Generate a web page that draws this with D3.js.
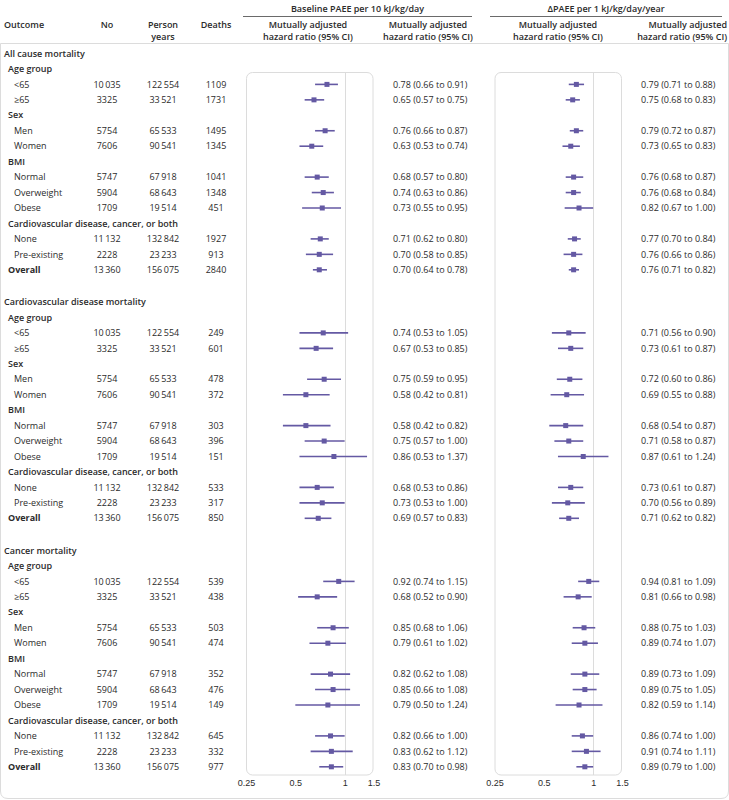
<!DOCTYPE html>
<html>
<head>
<meta charset="utf-8">
<script src="https://cdn.jsdelivr.net/npm/d3@7"></script>
<style>
  html, body { margin: 0; padding: 0; background: #fff; }
  svg { display: block; font-family: "Open Sans", "Noto Sans", sans-serif; }
</style>
</head>
<body>
<svg id="chart" width="729" height="800"></svg>
<script>
// ---------- data ----------
const outcomes = ["All cause mortality", "Cardiovascular disease mortality", "Cancer mortality"];
const groups = ["Age group", "Sex", "BMI", "Cardiovascular disease, cancer, or both"];
const subgroups = ["<65", "≥65", "Men", "Women", "Normal", "Overweight", "Obese", "None", "Pre-existing", "Overall"];
const subgroupGroup = [0, 0, 1, 1, 2, 2, 2, 3, 3, -1];
const participants = [10035, 3325, 5754, 7606, 5747, 5904, 1709, 11132, 2228, 13360];
const personYears = [122554, 33521, 65533, 90541, 67918, 68643, 19514, 132842, 23233, 156075];
const deaths = [
  [1109, 1731, 1495, 1345, 1041, 1348, 451, 1927, 913, 2840],
  [249, 601, 478, 372, 303, 396, 151, 533, 317, 850],
  [539, 438, 503, 474, 352, 476, 149, 645, 332, 977]
];
const baselineHR = [
  [0.78, 0.65, 0.76, 0.63, 0.68, 0.74, 0.73, 0.71, 0.70, 0.70],
  [0.74, 0.67, 0.75, 0.58, 0.58, 0.75, 0.86, 0.68, 0.73, 0.69],
  [0.92, 0.68, 0.85, 0.79, 0.82, 0.85, 0.79, 0.82, 0.83, 0.83]
];
const baselineLo = [
  [0.66, 0.57, 0.66, 0.53, 0.57, 0.63, 0.55, 0.62, 0.58, 0.64],
  [0.53, 0.53, 0.59, 0.42, 0.42, 0.57, 0.53, 0.53, 0.53, 0.57],
  [0.74, 0.52, 0.68, 0.61, 0.62, 0.66, 0.50, 0.66, 0.62, 0.70]
];
const baselineHi = [
  [0.91, 0.75, 0.87, 0.74, 0.80, 0.86, 0.95, 0.80, 0.85, 0.78],
  [1.05, 0.85, 0.95, 0.81, 0.82, 1.00, 1.37, 0.86, 1.00, 0.83],
  [1.15, 0.90, 1.06, 1.02, 1.08, 1.08, 1.24, 1.00, 1.12, 0.98]
];
const changeHR = [
  [0.79, 0.75, 0.79, 0.73, 0.76, 0.76, 0.82, 0.77, 0.76, 0.76],
  [0.71, 0.73, 0.72, 0.69, 0.68, 0.71, 0.87, 0.73, 0.70, 0.71],
  [0.94, 0.81, 0.88, 0.89, 0.89, 0.89, 0.82, 0.86, 0.91, 0.89]
];
const changeLo = [
  [0.71, 0.68, 0.72, 0.65, 0.68, 0.68, 0.67, 0.70, 0.66, 0.71],
  [0.56, 0.61, 0.60, 0.55, 0.54, 0.58, 0.61, 0.61, 0.56, 0.62],
  [0.81, 0.66, 0.75, 0.74, 0.73, 0.75, 0.59, 0.74, 0.74, 0.79]
];
const changeHi = [
  [0.88, 0.83, 0.87, 0.83, 0.87, 0.84, 1.00, 0.84, 0.86, 0.82],
  [0.90, 0.87, 0.86, 0.88, 0.87, 0.87, 1.24, 0.87, 0.89, 0.82],
  [1.09, 0.98, 1.03, 1.07, 1.09, 1.05, 1.14, 1.00, 1.11, 1.00]
];
const axisTicks = [0.25, 0.5, 1, 1.5];
const panelTitles = ["Baseline PAEE per 10 kJ/kg/day", "ΔPAEE per 1 kJ/kg/day/year"];
const ciHeader = ["Mutually adjusted", "hazard ratio (95% CI)"];

// ---------- layout ----------
const svg = d3.select("#chart");
const ink = "#2b2b2b";
const purple = "#6459a3";
const grid = "#dcdcdc";
const FS = 9;

const rowStep = 15.45;
const sectionTop = [53.5, 302, 550.5];

// build the line list
const lines = [];
outcomes.forEach((o, s) => {
  let i = 0;
  lines.push({ type: "title", text: o, s, i: i++ });
  groups.forEach((g, gi) => {
    lines.push({ type: "group", text: g, s, i: i++ });
    subgroups.forEach((sg, k) => {
      if (subgroupGroup[k] === gi) lines.push({ type: "row", text: sg, s, k, i: i++ });
    });
  });
  subgroups.forEach((sg, k) => {
    if (subgroupGroup[k] === -1) lines.push({ type: "overall", text: sg, s, k, i: i++ });
  });
});
const yOf = d => sectionTop[d.s] + d.i * rowStep;

const fmtBig = n => n >= 10000 ? d3.format(",")(n).replace(/,/g, "\u2009") : String(n);
const f2 = d3.format(".2f");

// outer border (body area)
svg.append("path")
  .attr("d", `M0.5,43.5 H728.5 V791 Q728.5,798.5 721,798.5 H8 Q0.5,798.5 0.5,791 Z`)
  .attr("fill", "none").attr("stroke", grid).attr("stroke-width", 1);

// header
const hdr = svg.append("g").attr("font-size", FS).attr("fill", ink).attr("font-weight", 600);
const panelHeadX = [[243, 472], [490, 722]];
panelTitles.forEach((t, p) => {
  const [a, b] = panelHeadX[p];
  hdr.append("text").attr("x", (a + b) / 2).attr("y", 9).attr("dy", "0.35em")
    .attr("text-anchor", "middle").text(t);
  hdr.append("line").attr("x1", a).attr("x2", b).attr("y1", 16.5).attr("y2", 16.5)
    .attr("stroke", "#444").attr("stroke-width", 0.8);
});
const hl1 = 24.5, hl2 = 36.5;
hdr.append("text").attr("x", 4).attr("y", hl1).attr("dy", "0.35em").text("Outcome");
hdr.append("text").attr("x", 107).attr("y", hl1).attr("dy", "0.35em").attr("text-anchor", "middle").text("No");
hdr.append("text").attr("x", 163).attr("y", hl1).attr("dy", "0.35em").attr("text-anchor", "middle").text("Person");
hdr.append("text").attr("x", 163).attr("y", hl2).attr("dy", "0.35em").attr("text-anchor", "middle").text("years");
hdr.append("text").attr("x", 216).attr("y", hl1).attr("dy", "0.35em").attr("text-anchor", "middle").text("Deaths");
[[308, "middle"], [428, "middle"], [558, "middle"], [727, "end"]].forEach(([x, anc]) => {
  hdr.append("text").attr("x", x).attr("y", hl1).attr("dy", "0.35em").attr("text-anchor", anc).text(ciHeader[0]);
  hdr.append("text").attr("x", x).attr("y", hl2).attr("dy", "0.35em").attr("text-anchor", anc).text(ciHeader[1]);
});

// scales
const xs = [
  d3.scaleLog().domain([0.25, 1.5]).range([246, 373.5]),
  d3.scaleLog().domain([0.25, 1.5]).range([494.5, 622])
];
const boxTop = 72.5, boxBottom = 775;

// panel boxes + reference line + axis
xs.forEach(x => {
  const [a, b] = x.range();
  svg.append("rect").attr("x", a + 0.5).attr("y", boxTop).attr("width", b - a - 1).attr("height", boxBottom - boxTop)
    .attr("rx", 6).attr("fill", "none").attr("stroke", grid);
  svg.append("line").attr("x1", Math.round(x(1)) + 0.5).attr("x2", Math.round(x(1)) + 0.5)
    .attr("y1", boxTop).attr("y2", boxBottom).attr("stroke", grid).attr("stroke-width", 1);
  const ax = svg.append("g").attr("transform", `translate(0,${boxBottom + 5})`)
    .call(d3.axisBottom(x).tickValues(axisTicks).tickFormat(d => String(d)).tickSize(0).tickPadding(0));
  ax.select(".domain").remove();
  ax.selectAll("text").attr("font-size", FS).attr("fill", ink).attr("font-family", null);
});

// rows
const body = svg.append("g").attr("font-size", FS).attr("fill", ink);
lines.forEach(d => {
  const y = yOf(d);
  if (d.type === "title") {
    body.append("text").attr("x", 4).attr("y", y).attr("dy", "0.35em").attr("font-weight", 600).text(d.text);
  } else if (d.type === "group") {
    body.append("text").attr("x", 8).attr("y", y).attr("dy", "0.35em").attr("font-weight", 600).text(d.text);
  } else {
    const bold = d.type === "overall";
    const row = body.append("g").attr("font-weight", 400);
    row.append("text").attr("x", bold ? 8 : 14).attr("y", y).attr("dy", "0.35em")
      .attr("font-weight", bold ? 700 : 400).text(d.text);
    row.append("text").attr("x", 107).attr("y", y).attr("dy", "0.35em").attr("text-anchor", "middle").text(fmtBig(participants[d.k]));
    row.append("text").attr("x", 163).attr("y", y).attr("dy", "0.35em").attr("text-anchor", "middle").text(fmtBig(personYears[d.k]));
    row.append("text").attr("x", 216).attr("y", y).attr("dy", "0.35em").attr("text-anchor", "middle").text(String(deaths[d.s][d.k]));
    const sets = [
      [baselineHR[d.s][d.k], baselineLo[d.s][d.k], baselineHi[d.s][d.k]],
      [changeHR[d.s][d.k], changeLo[d.s][d.k], changeHi[d.s][d.k]]
    ];
    const ciX = [393, 641];
    sets.forEach(([hr, lo, hi], p) => {
      const x = xs[p];
      svg.append("line").attr("x1", x(lo)).attr("x2", x(hi)).attr("y1", y).attr("y2", y)
        .attr("stroke", purple).attr("stroke-width", 1.6);
      svg.append("rect").attr("x", x(hr) - 2.5).attr("y", y - 2.5).attr("width", 5).attr("height", 5)
        .attr("fill", purple);
      row.append("text").attr("x", ciX[p]).attr("y", y).attr("dy", "0.35em")
        .text(`${f2(hr)} (${f2(lo)} to ${f2(hi)})`);
    });
  }
});
</script>
</body>
</html>
